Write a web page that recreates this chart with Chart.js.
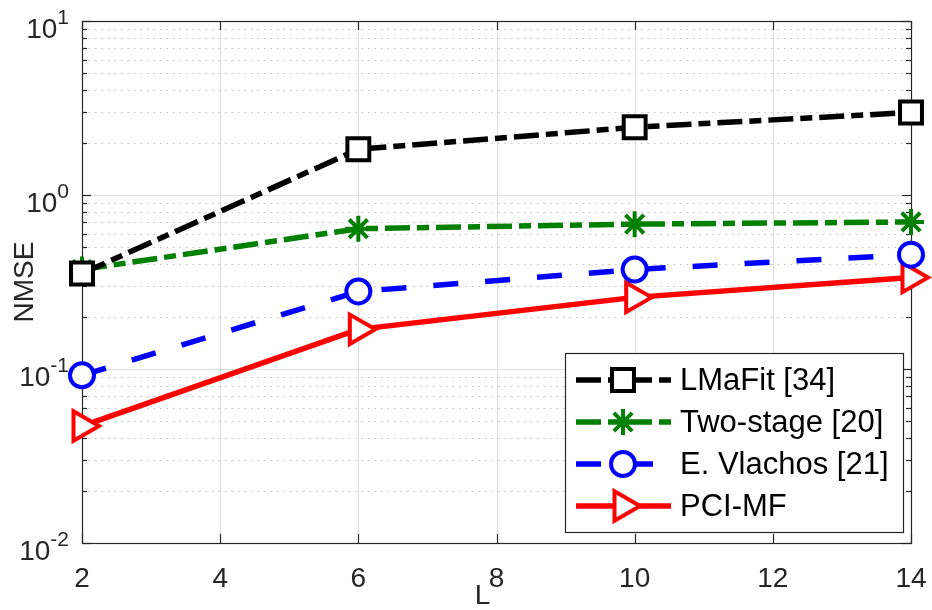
<!DOCTYPE html>
<html>
<head>
<meta charset="utf-8">
<script src="https://cdn.jsdelivr.net/npm/chart.js@4/dist/chart.umd.min.js"></script>
<style>
  html, body { margin: 0; padding: 0; background: #fff; }
  canvas { display: block; }
</style>
</head>
<body>
<canvas id="nmseChart" width="932" height="610"></canvas>
<script>
// L values and NMSE of each method
var lValues = [2, 6, 10, 14];
var lmafit = [0.354, 1.83, 2.45, 2.98];
var twoStage = [0.373, 0.64, 0.68, 0.70];
var vlachos = [0.092, 0.279, 0.373, 0.454];
var pciMf = [0.047, 0.169, 0.258, 0.336];

var seriesNames = ['LMaFit [34]', 'Two-stage [20]', 'E. Vlachos [21]', 'PCI-MF'];
var xTicks = [2, 4, 6, 8, 10, 12, 14];
var yDecades = [0.01, 0.1, 1, 10];
var yDecadeExps = ['-2', '-1', '0', '1'];
var xTitle = 'L';

var AXIS = '#262626';
var FONT = "'Liberation Sans', Arial, Helvetica, sans-serif";
var DASHDOT = [25, 7, 12, 7];

function pts(ys) {
    return lValues.map(function (x, i) { return { x: x, y: ys[i] }; });
}

function hline(ctx, x1, x2, y) {
    ctx.beginPath(); ctx.moveTo(x1, y); ctx.lineTo(x2, y); ctx.stroke();
}
function vline(ctx, x, y1, y2) {
    ctx.beginPath(); ctx.moveTo(x, y1); ctx.lineTo(x, y2); ctx.stroke();
}

// matlab-like grid, box, inward ticks, 10^n labels and legend
var matlabAxes = {
    id: 'matlabAxes',
    beforeDatasetsDraw: function (chart) {
        var ctx = chart.ctx, a = chart.chartArea;
        var xs = chart.scales.x, ys = chart.scales.y;
        ctx.save();
        ctx.lineWidth = 1;

        // minor grid (dotted)
        ctx.strokeStyle = '#c2c2c2';
        ctx.setLineDash([1.5, 5]);
        yDecades.slice(0, -1).forEach(function (d) {
            for (var m = 2; m <= 9; m++) {
                var y = Math.round(ys.getPixelForValue(d * m)) + 0.5;
                hline(ctx, a.left, a.right, y);
            }
        });
        ctx.setLineDash([]);

        // major grid
        ctx.strokeStyle = '#dfdfdf';
        yDecades.forEach(function (d) {
            var y = Math.round(ys.getPixelForValue(d)) + 0.5;
            hline(ctx, a.left, a.right, y);
        });
        xTicks.forEach(function (t) {
            var x = Math.round(xs.getPixelForValue(t)) + 0.5;
            vline(ctx, x, a.top, a.bottom);
        });

        // box
        ctx.strokeStyle = AXIS;
        ctx.lineWidth = 1.2;
        ctx.strokeRect(a.left + 0.5, a.top + 0.5, a.right - a.left, a.bottom - a.top);

        // ticks, pointing inwards on all four sides
        yDecades.forEach(function (d, k) {
            var y = Math.round(ys.getPixelForValue(d)) + 0.5;
            hline(ctx, a.left, a.left + 9, y);
            hline(ctx, a.right - 9, a.right, y);
            if (k === yDecades.length - 1) return;
            for (var m = 2; m <= 9; m++) {
                var ym = Math.round(ys.getPixelForValue(d * m)) + 0.5;
                hline(ctx, a.left, a.left + 5, ym);
                hline(ctx, a.right - 5, a.right, ym);
            }
        });
        xTicks.forEach(function (t) {
            var x = Math.round(xs.getPixelForValue(t)) + 0.5;
            vline(ctx, x, a.bottom - 9, a.bottom);
            vline(ctx, x, a.top, a.top + 9);
        });

        // y labels 10^n
        ctx.fillStyle = AXIS;
        ctx.textBaseline = 'alphabetic';
        ctx.textAlign = 'left';
        yDecades.forEach(function (d, k) {
            var y = ys.getPixelForValue(d);
            ctx.font = '21px ' + FONT;
            var we = ctx.measureText(yDecadeExps[k]).width;
            ctx.font = '28px ' + FONT;
            var wb = ctx.measureText('10').width;
            var xr = a.left - 13;
            ctx.fillText('10', xr - we - wb, y + 17);
            ctx.font = '21px ' + FONT;
            ctx.fillText(yDecadeExps[k], xr - we, y + 3);
        });

        // x axis title, sits a little left of centre like the original
        ctx.font = '28px ' + FONT;
        ctx.textAlign = 'center';
        ctx.fillText(xTitle, (a.left + a.right) / 2 - 14, 604);
        ctx.restore();
    },
    afterDraw: function (chart) {
        var ctx = chart.ctx, a = chart.chartArea;
        var bw = 338, bh = 179;
        var bx = a.right - 8 - bw, by = a.bottom - 11 - bh;
        ctx.save();
        ctx.fillStyle = '#fff';
        ctx.fillRect(bx, by, bw, bh);
        ctx.strokeStyle = AXIS;
        ctx.lineWidth = 1.2;
        ctx.strokeRect(bx + 0.5, by + 0.5, bw, bh);

        chart.data.datasets.forEach(function (ds, i) {
            var y = by + 27 + i * 42;
            ctx.strokeStyle = ds.borderColor;
            ctx.lineWidth = ds.borderWidth;
            ctx.lineCap = 'butt';
            ctx.setLineDash(ds.borderDash || []);
            hline(ctx, bx + 11, bx + 106, y);
            ctx.setLineDash([]);
            ctx.fillStyle = '#fff';
            ctx.lineWidth = ds.pointBorderWidth;
            Chart.helpers.drawPoint(ctx, {
                pointStyle: ds.pointStyle,
                rotation: ds.pointRotation || 0,
                radius: ds.pointRadius,
                borderWidth: ds.pointBorderWidth
            }, bx + 58, y);
            ctx.fillStyle = '#000';
            ctx.font = '31px ' + FONT;
            ctx.textBaseline = 'middle';
            ctx.textAlign = 'left';
            ctx.fillText(ds.label, bx + 115, y + 1);
        });
        ctx.restore();
    }
};

function series(label, ys, color, dash, style, radius, rot) {
    return {
        label: label,
        data: pts(ys),
        borderColor: color,
        borderWidth: 5.5,
        borderDash: dash,
        borderCapStyle: 'butt',
        pointStyle: style,
        pointRadius: radius,
        pointHoverRadius: radius,
        pointRotation: rot,
        pointBorderWidth: 4,
        pointBorderColor: color,
        pointBackgroundColor: '#fff',
        tension: 0,
        fill: false,
        clip: false
    };
}

var chart = new Chart(document.getElementById('nmseChart'), {
    type: 'line',
    data: {
        datasets: [
            series(seriesNames[0], lmafit, '#000000', DASHDOT, 'rect', 15.5, 0),
            series(seriesNames[1], twoStage, '#008000', DASHDOT, 'star', 13, 0),
            series(seriesNames[2], vlachos, '#0000ff', [25, 27], 'circle', 12, 0),
            series(seriesNames[3], pciMf, '#ff0000', [], 'triangle', 17, 90)
        ]
    },
    options: {
        responsive: false,
        animation: false,
        events: [],
        layout: { padding: { left: 0, top: 18, right: 19, bottom: 0 } },
        plugins: { legend: { display: false }, tooltip: { enabled: false } },
        scales: {
            x: {
                type: 'linear',
                min: 2,
                max: 14,
                afterFit: function (s) {
                    s.height = 67;
                    s.paddingLeft = 0;
                    s.paddingRight = 0;
                },
                afterBuildTicks: function (s) {
                    s.ticks = xTicks.map(function (v) { return { value: v }; });
                },
                grid: { display: false, drawTicks: false },
                border: { display: false },
                ticks: {
                    color: AXIS,
                    padding: 19,
                    maxRotation: 0,
                    font: { family: FONT, size: 28 }
                },
                title: { display: false }
            },
            y: {
                type: 'logarithmic',
                min: 0.01,
                max: 10,
                afterFit: function (s) {
                    s.width = 82;
                    s.paddingTop = 0;
                    s.paddingBottom = 0;
                },
                grid: { display: false, drawTicks: false },
                border: { display: false },
                ticks: { display: false },
                title: {
                    display: true,
                    text: 'NMSE',
                    color: AXIS,
                    padding: { top: 11, bottom: 0 },
                    font: { family: FONT, size: 28, lineHeight: 1 }
                }
            }
        }
    },
    plugins: [matlabAxes]
});
</script>
</body>
</html>
